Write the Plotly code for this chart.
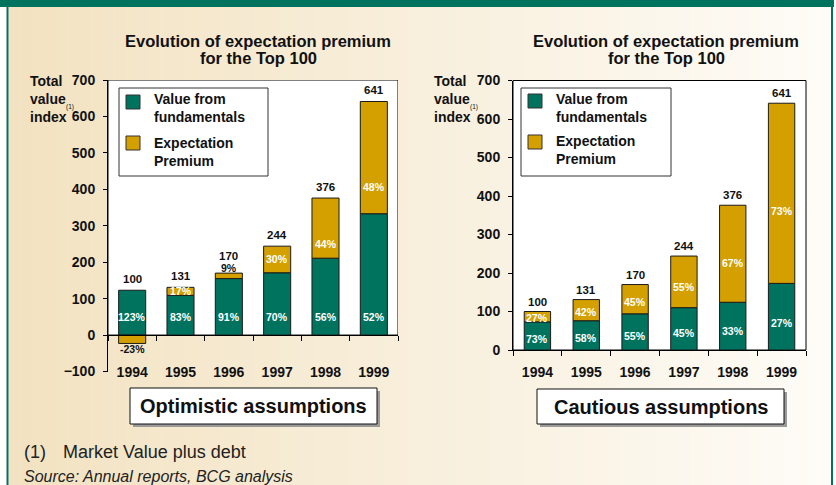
import plotly.graph_objects as go

# ---------------- data ----------------
years = ["1994", "1995", "1996", "1997", "1998", "1999"]
totals = [100, 131, 170, 244, 376, 641]

opt_fund = [123, 109, 155, 171, 211, 333]
opt_prem = [-23, 22, 15, 73, 165, 308]
opt_fund_pct = ["123%", "83%", "91%", "70%", "56%", "52%"]
opt_prem_pct = ["-23%", "17%", "9%", "30%", "44%", "48%"]

cau_fund = [73, 76, 94, 110, 124, 173]
cau_prem = [27, 55, 76, 134, 252, 468]
cau_fund_pct = ["73%", "58%", "55%", "45%", "33%", "27%"]
cau_prem_pct = ["27%", "42%", "45%", "55%", "67%", "73%"]

opt_yticks = [-100, 0, 100, 200, 300, 400, 500, 600, 700]
cau_yticks = [0, 100, 200, 300, 400, 500, 600, 700]

series_names = ["Value from<br>fundamentals", "Expectation<br>Premium"]
title_lines = ["Evolution of expectation premium", "for the Top 100"]
panel_names = ["Optimistic assumptions", "Cautious assumptions"]
ytitle_lines = ["Total", "value", "index"]
ytitle_sup = "(1)"
footnote = ["(1)", "Market Value plus debt"]
source = "Source: Annual reports, BCG analysis"

# ---------------- style ----------------
W, H = 836, 485
TEAL = "#00735f"
GOLD = "#d4a000"
FONT = "Liberation Sans"


def X(px):
    return px / W


def Y(py):
    return 1 - py / H


L_X = [X(108), X(398)]
L_Y = [Y(371.5), Y(80)]
R_X = [X(513), X(806)]
R_Y = [Y(350), Y(80.5)]
zero_left = L_Y[0] + (L_Y[1] - L_Y[0]) * (100 / 800)

fig = go.Figure()

bar_line = dict(color="#1a1a1a", width=1)
fig.add_trace(go.Bar(x=years, y=opt_fund, marker=dict(color=TEAL, line=bar_line),
                     width=0.56, xaxis="x", yaxis="y", showlegend=False, name="Value from fundamentals"))
fig.add_trace(go.Bar(x=years, y=opt_prem, marker=dict(color=GOLD, line=bar_line),
                     width=0.56, xaxis="x", yaxis="y", showlegend=False, name="Expectation Premium"))
fig.add_trace(go.Bar(x=years, y=cau_fund, marker=dict(color=TEAL, line=bar_line),
                     width=0.54, xaxis="x2", yaxis="y2", showlegend=False, name="Value from fundamentals"))
fig.add_trace(go.Bar(x=years, y=cau_prem, marker=dict(color=GOLD, line=bar_line),
                     width=0.54, xaxis="x2", yaxis="y2", showlegend=False, name="Expectation Premium"))
# dummy trace so that the zero-line axis of the left chart exists
fig.add_trace(go.Scatter(x=[None], y=[None], xaxis="x3", yaxis="y", showlegend=False,
                         hoverinfo="skip"))

shapes = []
annotations = []

# background gradient
n = 70
x_start, x_end = 8.5, 831
c0 = (242, 226, 193)
c1 = (254, 252, 247)
for i in range(n):
    t = i / (n - 1)
    c = tuple(int(round(c0[k] + (c1[k] - c0[k]) * t)) for k in range(3))
    xa = x_start + (x_end - x_start) * i / n
    xb = x_start + (x_end - x_start) * (i + 1) / n + 0.5
    shapes.append(dict(type="rect", xref="paper", yref="paper", x0=X(xa), x1=X(xb),
                       y0=0, y1=Y(7), fillcolor="rgb(%d,%d,%d)" % c, line=dict(width=0),
                       layer="below"))
# top band and side borders
shapes.append(dict(type="rect", xref="paper", yref="paper", x0=0, x1=X(834), y0=Y(7), y1=1,
                   fillcolor=TEAL, line=dict(width=0), layer="below"))
shapes.append(dict(type="rect", xref="paper", yref="paper", x0=X(6.5), x1=X(8.5), y0=0, y1=Y(7),
                   fillcolor=TEAL, line=dict(width=0), layer="below"))
shapes.append(dict(type="rect", xref="paper", yref="paper", x0=X(831), x1=X(833), y0=0, y1=Y(7),
                   fillcolor=TEAL, line=dict(width=0), layer="below"))

# plot frames (white areas)
shapes.append(dict(type="rect", xref="x3", yref="y", x0=-0.5, x1=5.5, y0=0, y1=700,
                   fillcolor="white", line=dict(color="black", width=1), layer="below"))
shapes.append(dict(type="rect", xref="x2 domain", yref="y2 domain", x0=0, x1=1, y0=0, y1=1,
                   fillcolor="white", line=dict(color="black", width=1), layer="below"))


def add_legend(x0, x1, y0, y1, mx, tx, rows):
    shapes.append(dict(type="rect", xref="paper", yref="paper", x0=X(x0), x1=X(x1),
                       y0=Y(y1), y1=Y(y0), fillcolor="white",
                       line=dict(color="#333333", width=1)))
    for (my, ty, color, label) in rows:
        shapes.append(dict(type="rect", xref="paper", yref="paper", x0=X(mx), x1=X(mx + 14),
                           y0=Y(my + 14), y1=Y(my), fillcolor=color,
                           line=dict(color="#333333", width=1)))
        annotations.append(dict(xref="paper", yref="paper", x=X(tx), y=Y(ty), text=label,
                                xanchor="left", yanchor="middle", showarrow=False, align="left",
                                font=dict(family=FONT, size=14, color="#111111", weight="bold")))


add_legend(119, 268, 88, 176, 126, 152,
           [(95, 108.5, TEAL, series_names[0]), (136, 151.5, GOLD, series_names[1])])
add_legend(521, 671, 88, 176, 528, 554,
           [(94, 107.5, TEAL, series_names[0]), (135, 150, GOLD, series_names[1])])

# titles
for cx in (258, 666):
    for ly, txt in zip((41, 58), title_lines):
        annotations.append(dict(xref="paper", yref="paper", x=X(cx), y=Y(ly), text=txt,
                                showarrow=False, xanchor="center", yanchor="middle",
                                font=dict(family=FONT, size=16.5, color="#111111", weight="bold")))

# y titles
for lx in (28, 432):
    for ly, txt in zip((81, 99, 117), ytitle_lines):
        annotations.append(dict(xref="paper", yref="paper", x=X(lx), y=Y(ly), text=txt,
                                showarrow=False, xanchor="left", yanchor="middle",
                                font=dict(family=FONT, size=14, color="#111111", weight="bold")))
    annotations.append(dict(xref="paper", yref="paper", x=X(lx + 36.5), y=Y(107), text=ytitle_sup,
                            showarrow=False, xanchor="left", yanchor="middle", borderpad=0,
                            font=dict(family=FONT, size=6.5, color="#111111")))

# panel name boxes
for (bx0, bx1, by0, by1), name in zip(((130, 377, 388, 424), (537, 784, 389, 424)), panel_names):
    shapes.append(dict(type="rect", xref="paper", yref="paper", x0=X(bx0 + 3), x1=X(bx1 + 3),
                       y0=Y(by1 + 3), y1=Y(by0 + 3), fillcolor="#9a9a9a", line=dict(width=0)))
    shapes.append(dict(type="rect", xref="paper", yref="paper", x0=X(bx0), x1=X(bx1),
                       y0=Y(by1), y1=Y(by0), fillcolor="white",
                       line=dict(color="#111111", width=1)))
    annotations.append(dict(xref="paper", yref="paper", x=X((bx0 + bx1) / 2), y=Y((by0 + by1) / 2),
                            text=name, showarrow=False, xanchor="center", yanchor="middle",
                            font=dict(family=FONT, size=20, color="#111111", weight="bold")))

# footnotes
annotations.append(dict(xref="paper", yref="paper", x=X(22), y=Y(452), text=footnote[0],
                        showarrow=False, xanchor="left", yanchor="middle",
                        font=dict(family=FONT, size=18, color="#222222")))
annotations.append(dict(xref="paper", yref="paper", x=X(61), y=Y(452), text=footnote[1],
                        showarrow=False, xanchor="left", yanchor="middle",
                        font=dict(family=FONT, size=18, color="#222222")))
annotations.append(dict(xref="paper", yref="paper", x=X(22), y=Y(476), text=source,
                        showarrow=False, xanchor="left", yanchor="middle",
                        font=dict(family=FONT, size=16, color="#222222", style="italic")))

PCT_FONT = dict(family=FONT, size=10.5, color="white", weight="bold")
BLK_PCT_FONT = dict(family=FONT, size=10.5, color="#111111", weight="bold")
TOT_FONT = dict(family=FONT, size=11.5, color="#111111", weight="bold")

# left chart value labels
for i, yr in enumerate(years):
    f, p = opt_fund[i], opt_prem[i]
    top = f + max(p, 0)
    annotations.append(dict(xref="x", yref="y", x=i, y=min(0.45 * f, 50), text=opt_fund_pct[i],
                            showarrow=False, yanchor="middle", font=PCT_FONT))
    tot_shift = 11
    if p < 0:
        annotations.append(dict(xref="x", yref="y", x=i, y=p, text=opt_prem_pct[i],
                                showarrow=False, yanchor="middle", yshift=-6, font=BLK_PCT_FONT))
    elif p < 18:
        annotations.append(dict(xref="x", yref="y", x=i, y=top, text=opt_prem_pct[i],
                                showarrow=False, yanchor="middle", yshift=5, font=BLK_PCT_FONT))
        tot_shift = 17
    else:
        ly = f + (p / 2 if p < 100 else 0.24 * p)
        annotations.append(dict(xref="x", yref="y", x=i, y=ly, text=opt_prem_pct[i],
                                showarrow=False, yanchor="middle", font=PCT_FONT))
    annotations.append(dict(xref="x", yref="y", x=i, y=top, text=str(totals[i]),
                            showarrow=False, yanchor="middle", yshift=tot_shift, font=TOT_FONT))

# right chart value labels
for i, yr in enumerate(years):
    f, p = cau_fund[i], cau_prem[i]
    annotations.append(dict(xref="x2", yref="y2", x=i, y=0.4 * f, text=cau_fund_pct[i],
                            showarrow=False, yanchor="middle", font=PCT_FONT))
    annotations.append(dict(xref="x2", yref="y2", x=i, y=f + 0.4 * p, text=cau_prem_pct[i],
                            showarrow=False, yanchor="middle", font=PCT_FONT))
    annotations.append(dict(xref="x2", yref="y2", x=i, y=f + p, text=str(totals[i]),
                            showarrow=False, yanchor="middle", yshift=10, font=TOT_FONT))

TICK_FONT = dict(family=FONT, size=14, color="#111111", weight="bold")

fig.update_layout(
    width=W, height=H, autosize=False,
    margin=dict(l=0, r=0, t=0, b=0, pad=0, autoexpand=False),
    paper_bgcolor="white", plot_bgcolor="rgba(0,0,0,0)",
    barmode="relative",
    shapes=shapes, annotations=annotations,
    xaxis=dict(domain=L_X, anchor="free", position=Y(362), type="category",
               range=[-0.5, 5.5], showline=False, ticks="", showgrid=False,
               tickfont=TICK_FONT, automargin=False),
    yaxis=dict(domain=L_Y, anchor="x", range=[-100, 700], tickvals=opt_yticks,
               showline=True, linecolor="black", linewidth=1, ticks="outside", ticklen=4,
               tickcolor="black", showgrid=False, zeroline=False, tickfont=TICK_FONT,
               ticklabelstandoff=5, automargin=False),
    xaxis3=dict(domain=L_X, overlaying="x", anchor="free", position=zero_left,
                range=[-0.5, 5.5], tickvals=[-0.5, 0.5, 1.5, 2.5, 3.5, 4.5, 5.5],
                showticklabels=False, showline=True, linecolor="black", linewidth=1,
                ticks="outside", ticklen=5, tickcolor="black", showgrid=False, zeroline=False,
                automargin=False),
    xaxis2=dict(domain=R_X, anchor="y2", type="category", range=[-0.5, 5.5],
                showline=True, linecolor="black", linewidth=1, ticks="outside", ticklen=5,
                tickcolor="black", tickson="boundaries", showgrid=False, tickfont=TICK_FONT,
                ticklabelstandoff=9, automargin=False),
    yaxis2=dict(domain=R_Y, anchor="x2", range=[0, 700], tickvals=cau_yticks,
                showline=True, linecolor="black", linewidth=1, ticks="outside", ticklen=4,
                tickcolor="black", showgrid=False, zeroline=False, tickfont=TICK_FONT,
                ticklabelstandoff=5, automargin=False),
)

fig.write_html("out.html", config={"displayModeBar": False},
               post_script="document.body.style.margin='0';document.body.style.overflow='hidden';")
